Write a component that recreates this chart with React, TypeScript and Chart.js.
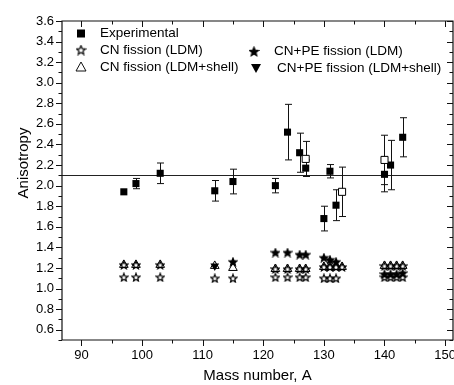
import React, { useEffect, useRef } from 'react';
import { Chart, registerables } from 'chart.js';
Chart.register(...registerables);

// ---- data ----
const xTickValues = [90, 100, 110, 120, 130, 140, 150];
const xMinorValues = [95, 105, 115, 125, 135, 145];
const yTickValues = [0.6, 0.8, 1.0, 1.2, 1.4, 1.6, 1.8, 2.0, 2.2, 2.4, 2.6, 2.8, 3.0, 3.2, 3.4, 3.6];
const yMinorValues = [0.5, 0.7, 0.9, 1.1, 1.3, 1.5, 1.7, 1.9, 2.1, 2.3, 2.5, 2.7, 2.9, 3.1, 3.3, 3.5];
const xRange = [86.8, 151.3];
const yRange = [0.5, 3.6];
const referenceAnisotropy = 2.1;

const expMass = [97, 99, 103, 112, 115, 122, 124, 126, 127, 130, 131, 132, 140, 141, 143];
const expAnis = [1.94, 2.02, 2.12, 1.95, 2.04, 2.0, 2.52, 2.32, 2.17, 1.68, 2.14, 1.81, 2.11, 2.2, 2.47];
const expErr = [0, 0.05, 0.1, 0.1, 0.12, 0.07, 0.27, 0.19, 0.08, 0.12, 0.065, 0.15, 0.17, 0.24, 0.19];

const expOpenMass = [127, 133, 140];
const expOpenAnis = [2.26, 1.94, 2.25];
const expOpenErr = [0.17, 0.24, 0.24];

const cnLdmLowMass = [97, 99, 103, 112, 115, 122, 124, 126, 127, 130, 131, 132, 140, 141, 142, 143];
const cnLdmLowAnis = [1.11, 1.11, 1.11, 1.1, 1.1, 1.11, 1.11, 1.11, 1.11, 1.1, 1.1, 1.1, 1.11, 1.11, 1.11, 1.11];
const cnLdmHighMass = [97, 99, 103, 122, 124, 126, 127, 130, 131, 132, 133, 140, 141, 142, 143];
const cnLdmHighAnis = [1.23, 1.23, 1.23, 1.19, 1.19, 1.19, 1.19, 1.21, 1.21, 1.21, 1.21, 1.22, 1.22, 1.22, 1.22];

const cnShellMass = [97, 99, 103, 112, 115, 122, 124, 126, 127, 130, 131, 132, 133, 140, 141, 142, 143];
const cnShellAnis = [1.23, 1.23, 1.23, 1.22, 1.2, 1.19, 1.19, 1.19, 1.19, 1.21, 1.21, 1.21, 1.21, 1.22, 1.22, 1.22, 1.22];

const peLdmMass = [115, 122, 124, 126, 127, 130, 131, 132, 140, 141, 142, 143];
const peLdmAnis = [1.26, 1.35, 1.35, 1.33, 1.33, 1.3, 1.28, 1.26, 1.14, 1.14, 1.14, 1.15];

const peShellMass = [112];
const peShellAnis = [1.22];

const legendLabels = [
  'Experimental',
  'CN fission (LDM)',
  'CN fission (LDM+shell)',
  'CN+PE fission (LDM)',
  'CN+PE fission (LDM+shell)',
];

const FONT = "Arial, 'Liberation Sans', sans-serif";

function pts(xs: number[], ys: number[]) {
  return xs.map((x, i) => ({ x, y: ys[i] }));
}

function makeStar(size: number, filled: boolean) {
  const c = document.createElement('canvas');
  c.width = size;
  c.height = size;
  const g = c.getContext('2d')!;
  const cx = size / 2;
  const cy = size / 2 + 0.4;
  const R = size / 2 - 0.8;
  const r = R * 0.45;
  g.beginPath();
  for (let i = 0; i < 10; i++) {
    const ang = -Math.PI / 2 + (i * Math.PI) / 5;
    const rad = i % 2 ? r : R;
    const px = cx + rad * Math.cos(ang);
    const py = cy + rad * Math.sin(ang);
    if (i === 0) g.moveTo(px, py);
    else g.lineTo(px, py);
  }
  g.closePath();
  g.lineWidth = 1.2;
  g.strokeStyle = '#000';
  if (filled) {
    g.fillStyle = '#000';
    g.fill();
  }
  g.stroke();
  return c;
}

export default function App() {
  const ref = useRef<HTMLCanvasElement>(null);

  useEffect(() => {
    document.body.style.margin = '0';
    const openStar = makeStar(10, false);
    const filledStar = makeStar(10, true);
    const legendOpenStar = makeStar(11, false);
    const legendFilledStar = makeStar(11, true);

    const framePlugin = {
      id: 'frame',
      beforeDatasetsDraw(chart: any) {
        const { ctx, chartArea: a, scales } = chart;
        const xs = scales.x;
        const ys = scales.y;
        ctx.save();
        ctx.strokeStyle = '#222';
        ctx.lineWidth = 1;
        const yr = Math.round(ys.getPixelForValue(referenceAnisotropy)) + 0.5;
        ctx.beginPath();
        ctx.moveTo(a.left, yr);
        ctx.lineTo(a.right, yr);
        ctx.stroke();

        const drawErr = (m: number[], v: number[], e: number[]) => {
          m.forEach((mass, i) => {
            if (!e[i]) return;
            const px = Math.round(xs.getPixelForValue(mass)) + 0.5;
            const t = ys.getPixelForValue(v[i] + e[i]);
            const b = ys.getPixelForValue(v[i] - e[i]);
            ctx.beginPath();
            ctx.moveTo(px, t);
            ctx.lineTo(px, b);
            ctx.moveTo(px - 3.5, t);
            ctx.lineTo(px + 3.5, t);
            ctx.moveTo(px - 3.5, b);
            ctx.lineTo(px + 3.5, b);
            ctx.stroke();
          });
        };
        ctx.strokeStyle = '#111';
        drawErr(expMass, expAnis, expErr);
        drawErr(expOpenMass, expOpenAnis, expOpenErr);
        ctx.restore();
      },
      afterDraw(chart: any) {
        const { ctx, chartArea: a, scales } = chart;
        const xs = scales.x;
        const ys = scales.y;
        ctx.save();
        ctx.strokeStyle = '#111';
        ctx.lineWidth = 1.2;
        ctx.beginPath();
        ctx.rect(a.left, a.top, a.right - a.left, a.bottom - a.top);
        ctx.stroke();
        ctx.lineWidth = 1;
        ctx.beginPath();
        const xTick = (v: number, len: number) => {
          const p = Math.round(xs.getPixelForValue(v)) + 0.5;
          ctx.moveTo(p, a.bottom);
          ctx.lineTo(p, a.bottom + len);
          ctx.moveTo(p, a.top);
          ctx.lineTo(p, a.top + len);
        };
        const yTick = (v: number, len: number) => {
          const p = Math.round(ys.getPixelForValue(v)) + 0.5;
          ctx.moveTo(a.left, p);
          ctx.lineTo(a.left - len, p);
          ctx.moveTo(a.right, p);
          ctx.lineTo(a.right - len, p);
        };
        xTickValues.forEach((v) => xTick(v, 6));
        xMinorValues.forEach((v) => xTick(v, 3.5));
        yTickValues.forEach((v) => yTick(v, 6));
        yMinorValues.forEach((v) => yTick(v, 3.5));
        ctx.stroke();

        // y title
        ctx.fillStyle = '#000';
        ctx.font = `15px ${FONT}`;
        ctx.textAlign = 'center';
        ctx.textBaseline = 'middle';
        ctx.save();
        ctx.translate(24, 163);
        ctx.rotate(-Math.PI / 2);
        ctx.fillText('Anisotropy', 0, 0);
        ctx.restore();

        // legend
        ctx.font = `13.5px ${FONT}`;
        ctx.textAlign = 'left';
        ctx.textBaseline = 'middle';
        ctx.fillStyle = '#000';
        ctx.fillRect(77, 29.5, 8, 8);
        ctx.fillText(legendLabels[0], 100, 33.5);
        ctx.drawImage(legendOpenStar, 75.5, 44.5);
        ctx.fillText(legendLabels[1], 100, 50.5);
        ctx.beginPath();
        ctx.moveTo(81, 62);
        ctx.lineTo(86, 71);
        ctx.lineTo(76, 71);
        ctx.closePath();
        ctx.lineWidth = 1;
        ctx.stroke();
        ctx.fillText(legendLabels[2], 100, 67.5);
        ctx.drawImage(legendFilledStar, 248.5, 46);
        ctx.fillText(legendLabels[3], 274, 51.5);
        ctx.beginPath();
        ctx.moveTo(251, 64);
        ctx.lineTo(261, 64);
        ctx.lineTo(256, 73);
        ctx.closePath();
        ctx.fill();
        ctx.fillText(legendLabels[4], 277, 68.5);
        ctx.restore();
      },
    };

    const chart = new Chart(ref.current!, {
      type: 'scatter',
      data: {
        datasets: [
          {
            label: legendLabels[0],
            data: pts(expMass, expAnis),
            pointStyle: 'rect',
            pointRadius: 5,
            backgroundColor: '#000',
            borderColor: '#000',
            borderWidth: 0,
            order: 1,
          },
          {
            label: 'open',
            data: pts(expOpenMass, expOpenAnis),
            pointStyle: 'rect',
            pointRadius: 5,
            backgroundColor: '#fff',
            borderColor: '#000',
            borderWidth: 1,
            order: 0,
          },
          {
            label: legendLabels[1],
            data: pts(cnLdmLowMass, cnLdmLowAnis),
            pointStyle: openStar as any,
            pointRadius: 5,
            order: 5,
          },
          {
            label: legendLabels[1] + ' b',
            data: pts(cnLdmHighMass, cnLdmHighAnis),
            pointStyle: openStar as any,
            pointRadius: 5,
            order: 5,
          },
          {
            label: legendLabels[2],
            data: pts(cnShellMass, cnShellAnis),
            pointStyle: 'triangle',
            pointRadius: 5,
            backgroundColor: 'rgba(0,0,0,0)',
            borderColor: '#000',
            borderWidth: 1,
            order: 4,
          },
          {
            label: legendLabels[3],
            data: pts(peLdmMass, peLdmAnis),
            pointStyle: filledStar as any,
            pointRadius: 5,
            order: 3,
          },
          {
            label: legendLabels[4],
            data: pts(peShellMass, peShellAnis),
            pointStyle: 'triangle',
            rotation: 180,
            pointRadius: 5,
            backgroundColor: '#000',
            borderColor: '#000',
            borderWidth: 0,
            order: 3,
          },
        ] as any,
      },
      options: {
        animation: false,
        responsive: false,
        events: [],
        layout: { padding: { top: 21, right: 17, bottom: 0, left: 0 } },
        plugins: { legend: { display: false }, tooltip: { enabled: false } },
        scales: {
          x: {
            type: 'linear',
            min: xRange[0],
            max: xRange[1],
            grid: { display: false, drawTicks: false },
            border: { display: false },
            ticks: {
              color: '#000',
              font: { size: 13, family: FONT },
              padding: 8,
              autoSkip: false,
              maxRotation: 0,
            },
            afterBuildTicks: (s: any) => {
              s.ticks = xTickValues.map((v) => ({ value: v }));
            },
            afterFit: (s: any) => {
              s.height = 45;
            },
            title: {
              display: true,
              text: 'Mass number, A',
              color: '#000',
              font: { size: 15, family: FONT },
              padding: 0,
            },
          },
          y: {
            type: 'linear',
            min: yRange[0],
            max: yRange[1],
            grid: { display: false, drawTicks: false },
            border: { display: false },
            ticks: {
              color: '#000',
              font: { size: 13, family: FONT },
              padding: 8,
              autoSkip: false,
              callback: (v: any) => Number(v).toFixed(1),
            },
            afterBuildTicks: (s: any) => {
              s.ticks = yTickValues.map((v) => ({ value: v }));
            },
            afterFit: (s: any) => {
              s.width = 62;
            },
          },
        },
      } as any,
      plugins: [framePlugin],
    });
    return () => chart.destroy();
  }, []);

  return (
    <div style={{ width: 454, height: 385, overflow: 'hidden' }}>
      <canvas ref={ref} width={470} height={385} style={{ display: 'block' }} />
    </div>
  );
}
